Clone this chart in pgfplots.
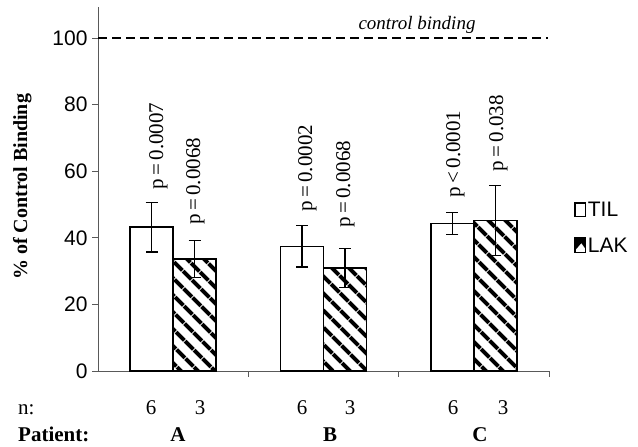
\documentclass[border=0pt]{standalone}
\usepackage{fontspec}
\setmainfont{Liberation Serif}
\setsansfont{Liberation Sans}
\usepackage{pgfplots}
\pgfplotsset{compat=1.18}
\usepackage{pgfplotstable}
\usetikzlibrary{patterns.meta}

\pgfplotstableread{
x til tilerr lak lakerr
0 43.2 7.5 33.6 5.5
1 37.4 6.2 30.9 5.9
2 44.3 3.4 45.2 10.6
}\binding

\tikzset{
  plab/.style={rotate=90, anchor=base west, font=\fontsize{21}{21}\selectfont, inner sep=0pt},
  btxt/.style={anchor=base, font=\fontsize{21}{21}\selectfont, inner sep=0pt},
  ltxt/.style={anchor=base west, font=\fontsize{21}{21}\sffamily, inner sep=0pt},
}
\pgfplotsset{
  ebar/.style={error bars/.cd, y dir=both, y explicit,
    error bar style={line width=1.2pt, black},
    error mark options={rotate=90, mark size=6pt, line width=1.2pt, black},
    /pgfplots/.cd},
}

\begin{document}
\begin{tikzpicture}
\begin{axis}[
  scale only axis, width=451pt, height=364pt,
  xmin=-0.5, xmax=2.5, ymin=0, ymax=109.3,
  clip=false,
  axis x line=bottom, axis y line=left,
  axis line style={-, black!65, line width=0.8pt},
  tick align=outside, major tick length=6pt,
  tick style={black!65, line width=0.8pt},
  xtick={0.5,1.5,2.5}, xticklabels={},
  ytick={0,20,...,100},
  ticklabel style={font=\fontsize{21}{21}\sffamily},
  /pgf/number format/assume math mode=true,
  yticklabel style={xshift=-1pt},
  ybar, bar width=43pt,
]
\addplot[bar shift=-21.5pt, draw=black, fill=white, line width=1.6pt, ebar]
  table[x=x, y=til, y error=tilerr] {\binding};
\addplot[bar shift=21.5pt, draw=black, line width=1.6pt,
  pattern={Lines[angle=-45, distance=13pt, line width=4.5pt]}, pattern color=black, ebar]
  table[x=x, y=lak, y error=lakerr] {\binding};

\addplot[sharp plot, black, dashed, dash pattern=on 9pt off 5pt, line width=1.5pt, forget plot]
  coordinates {(-0.5,100) (2.49,100)};
\node[anchor=base, font=\fontsize{19}{19}\itshape, inner sep=0pt] at (axis cs:1.622,102.4) {control binding};

% legend
\draw[black, line width=1.3pt] (axis cs:2.673,46.3) rectangle (axis cs:2.744,50.4);
\node[ltxt] at (axis cs:2.757,46.25) {TIL};
\fill[black] (axis cs:2.673,36.2) -- (axis cs:2.673,39.9) -- (axis cs:2.744,39.9)
  -- (axis cs:2.744,36.6) -- (axis cs:2.715,38.4) -- cycle;
\draw[black, line width=1.3pt] (axis cs:2.673,35.5) rectangle (axis cs:2.744,39.9);
\node[ltxt] at (axis cs:2.757,35.45) {LAK};

% p values
\node[plab] at (axis cs:-0.0676,54.4) {p\,=\,0.0007};
\node[plab] at (axis cs:0.1785,43.8) {p\,=\,0.0068};
\node[plab] at (axis cs:0.9235,47.7) {p\,=\,0.0002};
\node[plab] at (axis cs:1.1763,42.9) {p\,=\,0.0068};
\node[plab] at (axis cs:1.908,52.0) {p\,<\,0.0001};
\node[plab] at (axis cs:2.194,59.8) {p\,=\,0.038};

% y label
\node[rotate=90, anchor=base, font=\fontsize{20}{20}\bfseries, inner sep=0pt] at (axis cs:-0.972,55.3) {\% of Control Binding};

% n and patient rows
\node[btxt, anchor=base west] at (axis cs:-1.032,-13.2) {n:};
\node[btxt] at (axis cs:-0.1474,-13.2) {6};
\node[btxt] at (axis cs:0.1785,-13.2) {3};
\node[btxt] at (axis cs:0.857,-13.2) {6};
\node[btxt] at (axis cs:1.1763,-13.2) {3};
\node[btxt] at (axis cs:1.8615,-13.2) {6};
\node[btxt] at (axis cs:2.194,-13.2) {3};
\node[btxt, anchor=base west, font=\fontsize{21}{21}\bfseries] at (axis cs:-1.032,-21.3) {Patient:};
\node[btxt, font=\fontsize{21}{21}\bfseries] at (axis cs:0.032,-21.3) {A};
\node[btxt, font=\fontsize{21}{21}\bfseries] at (axis cs:1.0433,-21.3) {B};
\node[btxt, font=\fontsize{21}{21}\bfseries] at (axis cs:2.041,-21.3) {C};

\path (axis cs:-1.152,-22.82) rectangle (axis cs:3.092,111.4);
\end{axis}
\end{tikzpicture}
\end{document}
